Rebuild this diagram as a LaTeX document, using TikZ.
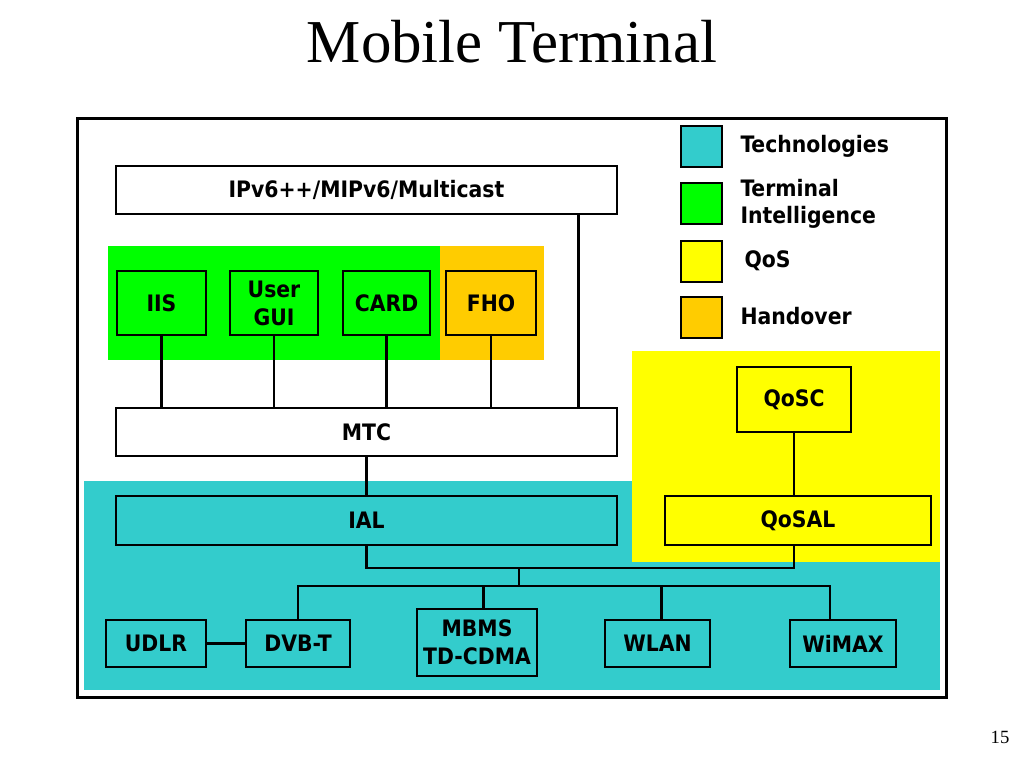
\documentclass[tikz,border=0pt]{standalone}
\usepackage{fontspec}
\setmainfont{Liberation Serif}
\newfontfamily\boxfont{DejaVu Sans Condensed}
\definecolor{techcol}{RGB}{51,204,204}
\definecolor{ticol}{RGB}{0,255,0}
\definecolor{qoscol}{RGB}{255,255,0}
\definecolor{hocol}{RGB}{255,204,0}
\tikzset{every picture/.style={line width=0.75pt}}

\begin{document}
\begin{tikzpicture}[x=0.75pt,y=0.75pt,yscale=-1,xscale=1,
	blk/.style={draw,line width=2.1pt,font=\boxfont\bfseries\fontsize{17}{21}\selectfont,align=center,inner sep=0pt},
	key/.style={draw,line width=1.8pt,minimum size=30.75pt,inner sep=0pt},
	keytext/.style={anchor=west,font=\boxfont\bfseries\fontsize{17}{20}\selectfont,align=left,inner sep=0pt},
	link/.style={line width=1.8pt}]
		\useasboundingbox (0,0) rectangle (1024,768);

		% Title
		\node (title) at (512,42) {\fontsize{45.7}{50}\selectfont Mobile Terminal};
		\node (pageno) at (1000,737) {\fontsize{14}{16}\selectfont 15};

		% Coloured areas
		\fill [techcol] (84,481) rectangle (940,690);
		\fill [qoscol] (632,351) rectangle (940,562);
		\fill [ticol] (108,246) rectangle (440,360);
		\fill [hocol] (440,246) rectangle (544,360);
		% Frame
		\draw [line width=2.25pt] (77,118) rectangle (946,697);

		% Legend
		\node [key, fill=techcol] (keytech) at (701.5,146.5) {};
		\node [key, fill=ticol] (keyti) at (701.5,203.5) {};
		\node [key, fill=qoscol] (keyqos) at (701.5,261.5) {};
		\node [key, fill=hocol] (keyho) at (701.5,317.5) {};
		\node [keytext] (lbltech) at (740,146) {Technologies};
		\node [keytext] (lblti) at (740,204) {Terminal\\Intelligence};
		\node [keytext] (lblqos) at (744,261) {QoS};
		\node [keytext] (lblho) at (740,316) {Handover};

		% Layers
		\node [blk, fill=white, minimum width=375.75pt, minimum height=36pt] (ipv6) at (366.5,190) {IPv6++/MIPv6/Multicast};
		\node [blk, fill=white, minimum width=375.75pt, minimum height=36pt] (mtc) at (366.5,432) {MTC};
		\node [blk, fill=techcol, minimum width=375.75pt, minimum height=36.75pt] (ial) at (366.5,520.5) {IAL};

		% Terminal intelligence and handover
		\node [blk, fill=ticol, minimum width=66.75pt, minimum height=48pt] (iis) at (161.5,303) {IIS};
		\node [blk, fill=ticol, minimum width=66pt, minimum height=48pt] (gui) at (274,303) {User\\GUI};
		\node [blk, fill=ticol, minimum width=65.25pt, minimum height=48pt] (card) at (386.5,303) {CARD};
		\node [blk, fill=hocol, minimum width=67.5pt, minimum height=48pt] (fho) at (491,303) {FHO};

		% QoS
		\node [blk, fill=qoscol, minimum width=85.5pt, minimum height=48.75pt] (qosc) at (794,399.5) {QoSC};
		\node [blk, fill=qoscol, minimum width=199.5pt, minimum height=36.75pt] (qosal) at (798,520.5) {QoSAL};

		% Technologies
		\node [blk, fill=techcol, minimum width=75pt, minimum height=35.25pt] (udlr) at (156,643.5) {UDLR};
		\node [blk, fill=techcol, minimum width=78pt, minimum height=35.25pt] (dvbt) at (298,643.5) {DVB-T};
		\node [blk, fill=techcol, minimum width=90pt, minimum height=50.25pt] (mbms) at (477,642.5) {MBMS\\TD-CDMA};
		\node [blk, fill=techcol, minimum width=78.75pt, minimum height=35.25pt] (wlan) at (657.5,643.5) {WLAN};
		\node [blk, fill=techcol, minimum width=79.5pt, minimum height=35.25pt] (wimax) at (843,643.5) {WiMAX};

		% Connectors
		\path (ipv6.south east) ++(-40,0) coordinate (ipdrop);
		\coordinate (bus) at (519,568);
		\coordinate (tbus) at (519,586);
		\draw [link] (iis) -- (iis |- mtc.north);
		\draw [link] (gui) -- (gui |- mtc.north);
		\draw [link] (card) -- (card |- mtc.north);
		\draw [link] (fho) -- (fho |- mtc.north);
		\draw [link] (ipdrop) -- (ipdrop |- mtc.north);
		\draw [link] (mtc) -- (ial);
		\draw [link] (qosc) -- (qosc |- qosal.north);
		\draw [link] (ial.south) |- (bus) -| (qosc |- qosal.south);
		\draw [link] (bus) -- (tbus);
		\draw [link] (dvbt.north) |- (tbus) -| ([xshift=-9.75pt]wimax.north);
		\draw [link] ([xshift=5pt]mbms.north) -- ([xshift=5pt]mbms.north |- tbus);
		\draw [link] ([xshift=3pt]wlan.north) -- ([xshift=3pt]wlan.north |- tbus);
		\draw [link] (udlr) -- (dvbt);

\end{tikzpicture}
\end{document}
